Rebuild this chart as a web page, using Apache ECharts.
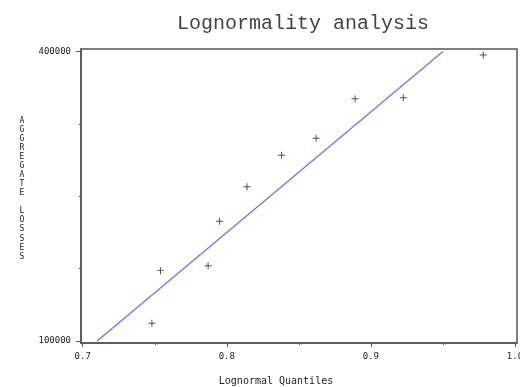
<!DOCTYPE html>
<html>
<head>
<meta charset="utf-8">
<script src="https://cdn.jsdelivr.net/npm/echarts@6/dist/echarts.min.js"></script>
<style>html,body{margin:0;padding:0;background:#fff}#c{width:520px;height:387px}</style>
</head>
<body>
<div id="c"></div>
<script>
// ---- data ----
var quantiles = [0.748, 0.754, 0.787, 0.795, 0.814, 0.838, 0.862, 0.889, 0.9225, 0.978];
var losses    = [118300, 172900, 178000, 224000, 259900, 292400, 310100, 351100, 352100, 396400];
var fitQuantiles = [0.71, 0.95];
var fitLosses    = [100000, 400000];
var xMajorTicks = [0.7, 0.8, 0.9, 1.0];
var xMinorTicks = [0.75, 0.85, 0.95];
var yMajorTicks = [100000, 400000];
var yMinorTicks = [175000, 250000, 325000];
var titleText = 'Lognormality analysis';
var xTitle = 'Lognormal Quantiles';
var yTitle = 'AGGREGATE LOSSES';

var mono = 'DejaVu Sans Mono';
var chart = echarts.init(document.getElementById('c'), null, {renderer: 'canvas'});
var points = quantiles.map(function (q, i) { return [q, losses[i]]; });
var fit = fitQuantiles.map(function (q, i) { return [q, fitLosses[i]]; });
var plus = 'path://M4.3,0H5.7V4.3H10V5.7H5.7V10H4.3V5.7H0V4.3H4.3Z';

chart.setOption({
  animation: false,
  backgroundColor: '#fff',
  title: {
    text: titleText, left: 172, top: 9,
    textStyle: {fontFamily: 'Liberation Mono', fontSize: 20, fontWeight: 'normal', color: '#444'}
  },
  grid: {left: 81, right: 3, top: 49, bottom: 44, show: true, borderColor: '#555', borderWidth: 1.5, containLabel: false, outerBoundsMode: 'none'},
  xAxis: [{
    type: 'value', min: 0.6988, max: 1.0014,
    axisLine: {show: true, lineStyle: {color: '#555', width: 1.5}},
    splitLine: {show: false},
    axisTick: {show: true, length: 4, lineStyle: {color: '#555'}, customValues: xMajorTicks},
    axisLabel: {customValues: xMajorTicks, margin: 9, fontFamily: mono, fontSize: 9, color: '#222',
      formatter: function (v) { return v.toFixed(1); }}
  }, {
    type: 'value', min: 0.6988, max: 1.0014, position: 'bottom',
    axisLine: {show: false}, splitLine: {show: false},
    axisTick: {show: true, length: 2, lineStyle: {color: '#555'}, customValues: xMinorTicks},
    axisLabel: {show: false}
  }],
  yAxis: [{
    type: 'value', min: 97900, max: 402600,
    axisLine: {show: true, lineStyle: {color: '#555', width: 1.5}},
    splitLine: {show: false},
    axisTick: {show: true, length: 5, lineStyle: {color: '#555'}, customValues: yMajorTicks},
    axisLabel: {customValues: yMajorTicks, margin: 10, fontFamily: mono, fontSize: 9, color: '#222',
      formatter: function (v) { return String(Math.round(v)); }}
  }, {
    type: 'value', min: 97900, max: 402600, position: 'left',
    axisLine: {show: false}, splitLine: {show: false},
    axisTick: {show: true, length: 2, lineStyle: {color: '#555'}, customValues: yMinorTicks},
    axisLabel: {show: false}
  }],
  graphic: [{
    type: 'text', x: 22, y: 116,
    style: {text: yTitle.split('').join('\n'), fontFamily: mono, fontSize: 8, lineHeight: 9.07,
      fill: '#222', align: 'center', verticalAlign: 'top'}
  }, {
    type: 'text', x: 276, y: 381,
    style: {text: xTitle, fontFamily: mono, fontSize: 10, fill: '#222', align: 'center', verticalAlign: 'middle'}
  }],
  series: [{
    type: 'line', data: fit, showSymbol: false, symbol: 'none',
    lineStyle: {color: '#7070ff', width: 1.3}, z: 2
  }, {
    type: 'scatter', data: points, symbol: plus, symbolSize: 7,
    itemStyle: {color: '#222'}, z: 3
  }]
});
</script>
</body>
</html>
